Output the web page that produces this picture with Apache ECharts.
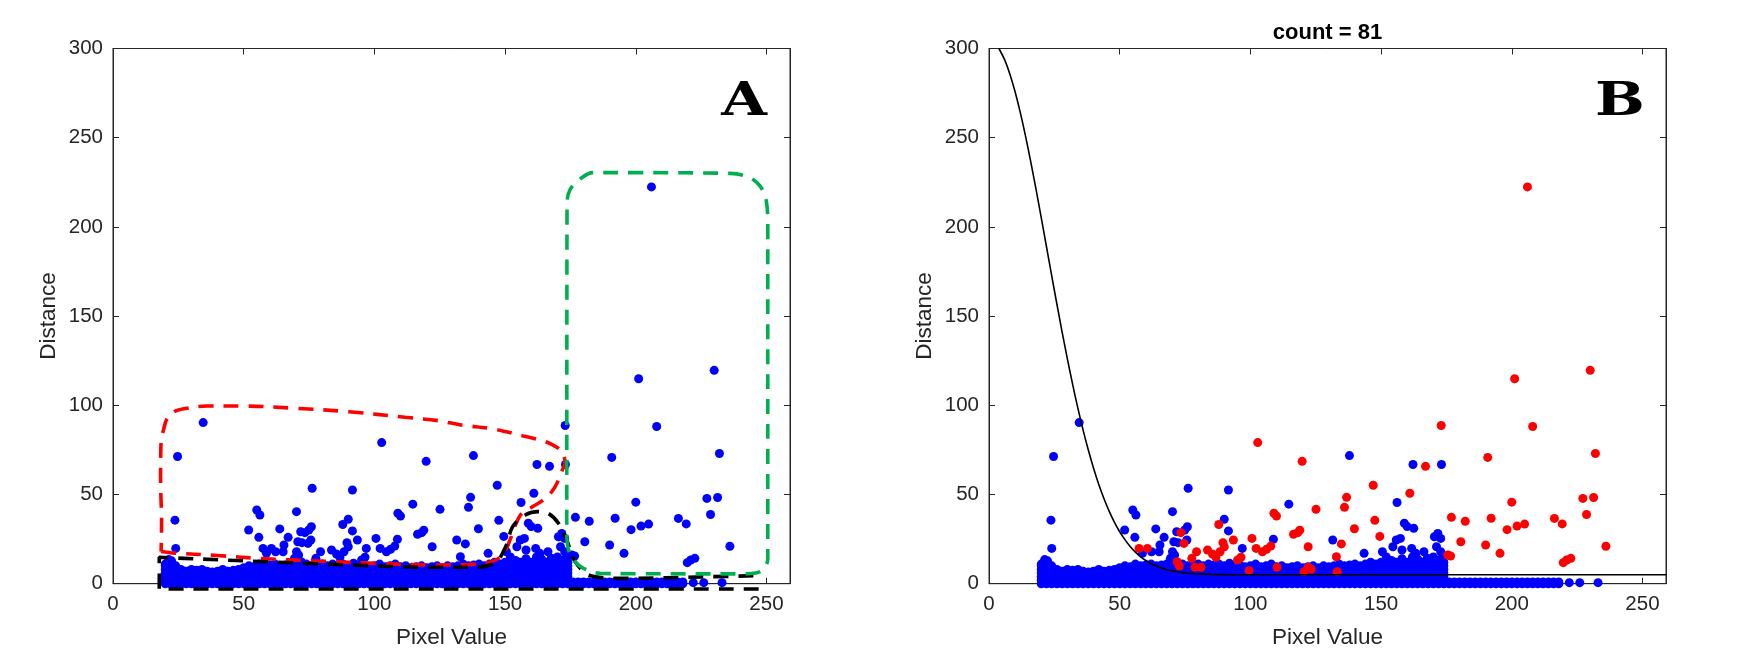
<!DOCTYPE html>
<html>
<head>
<meta charset="utf-8">
<script src="https://cdn.jsdelivr.net/npm/echarts@6/dist/echarts.min.js"></script>
<style>
html,body{margin:0;padding:0;background:#fff;}
#c{width:1750px;height:656px;}
</style>
</head>
<body>
<div id="c"></div>
<script>
// ---------------- data ----------------
const xTicks = [0, 50, 100, 150, 200, 250];
const yTicks = [0, 50, 100, 150, 200, 250, 300];
const xMax = 259;
const titleText = 'count = 81';
const panelLabels = ['A', 'B'];

// dense band of points near zero: column position and top of the band
const bandX = [20,22,24,26,28,30,32,34,36,38,40,42,44,46,48,50,52,54,56,58,60,62,64,66,68,70,72,74,76,78,80,82,84,86,88,90,92,94,96,98,100,102,104,106,108,110,112,114,116,118,120,122,124,126,128,130,132,134,136,138,140,142,144,146,148,150,152,154,156,158,160,162,164,166,168,170,172,174,176,178,180,182,184,186,188,190,192,194,196,198,200,202,204,206,208,210,212,214,216,218];
const bandTop = [11,12,10,8,7,8,7.5,8,7,6.5,7,8,7,7.5,8,9,10,9.5,11,10,10.5,11,10,10.5,11,12,10.5,11,10,10.5,11,10,11,10.5,11,10,11.5,10,10.5,9.5,10,11,9.5,10,11,9.5,10,9,9.5,10,9,9.5,10,9,10,9.5,10,11,10,10.5,11,10,11,12,11,12,11.5,13,12,14,12,15,13,12,14,15,13,12,1,1,1,1,1,1,1,1,1,1,1,1,1,1,1,1,1,1,1,1,1,1];

// scattered points shown blue in both panels
const blueX = [23.7,24,24.7,34.5,22.4,21.3,51.9,55,56.2,55.8,58.7,62.2,63.8,65.4,65.1,67,70.2,70.7,72.3,75.7,71.8,74.9,75.9,70.2,71,69.4,76.2,90,91.6,91.6,96.9,108.8,114.7,131.5,137.9,156.1,143.5,150.5,152,154.5,155.8,157.4,158,158.9,160,162.5,161.7,163.3,164,166.4,167.6,168.8,170.4,171.7,172.8,171.2,172.8,173.6,162.2,173.1,222,226,233];
const blueY = [35.6,19.8,71.3,90.3,12.8,13.5,30.1,41.3,38.5,26,17,17.9,30.7,21.7,17.9,26,40.4,23.5,23,24.5,29.1,30.1,31.9,17.9,16.1,14.2,53.5,36.1,29.6,52.5,19.8,24.9,44.6,24.5,71.8,45.5,17,17.9,15,20.7,24.5,25.4,18.9,33.9,32,31.1,19.8,17,13.7,17.9,14.2,13.3,26.3,28.2,25.4,20.7,17.9,15.1,66.8,66.8,0.6,0.6,0.6];

// points shown red in panel B (blue in panel A)
const redX = [57.4,60.6,72,72.8,73.4,74.6,77.6,78.8,81.1,79.4,83.6,85.5,86.8,88.4,89.5,90,87.9,93.5,95.1,96.4,99.5,100.6,102.2,104.6,106.2,107.8,109,110,110.2,116.5,118.1,118.9,120.5,122.1,123.3,122.1,125.1,132.9,133.2,134.8,136,136.8,139.8,147,147.6,149.5,161,102.8,119.8,173,167,190.8,176.9,182.2,192.1,175.5,176.6,180.5,190,195.5,198.2,200,201.1,202,204.9,206,208,216.3,219.3,219.7,221,222.6,227.2,228.6,230,231.3,232,236];
const redY = [19.8,19.8,12.3,9.9,28.6,22.6,14.2,9.2,9.2,17.9,18.9,16.6,14.8,17.9,23,20.7,33.2,24.5,13.3,14.8,7.3,25.4,19.8,17.9,19.3,21.1,39.5,37.9,9.2,27.7,28.6,30,6.7,9.2,8.1,20.7,41.7,15.1,6.7,22.3,42.8,48.4,30.8,55.2,35.5,26.5,50.7,79.1,68.6,88.7,65.8,70.8,37.2,35,36.7,16.1,15.5,23.5,21.7,17,30.3,45.7,114.9,32.3,33.4,222.4,88.1,36.6,33.5,11.8,13.3,14.2,47.8,38.8,119.6,48.3,73,21];

// threshold curve in panel B
const curveX = [3.8,6,8,10,12,14,16,18,20,22,24,26,28,30,32,34,36,38,40,42,44,46,48,50,52,54,56,58,60,62,65,68,70,75,80,85,90,100,150,200,259];
const curveY = [300,293.6,285.6,275.6,263.9,250.7,236.3,221,205,188.8,172.5,156.5,140.9,125.9,111.7,98.4,86.1,74.9,64.7,55.6,47.6,40.5,34.4,29.1,24.7,20.9,17.7,15.1,13,11.2,9.3,7.8,7.2,6,5.5,5.2,5.1,5,5,5,5];

// hand-drawn outlines in panel A
const redPathX = [18.4,22.3,40,55.8,80,100.4,122.7,136,142,146,149.5,152,154,156.3,160.9,165.4,169,171.9,172.9,172.3,170.7,168,164,157,145.7,133.1,124.3,111.7,90.3,70.1,48.6,36,27.2,23.4,20.5,19.3,18.4,18.2,18.6,18.4];
const redPathY = [18,17.3,15.8,14.2,12.6,11.4,10.5,10.8,11.5,13,17,25,33,39.2,43.5,47.8,54,63.7,68,72.5,75.5,78,80.3,82.8,86.7,89,91.4,93.3,96.4,98.3,99.6,99.6,98.1,96.4,92,86,80.5,58,34,18];
const blackPathX = [247,130,17.7,17.7,27.2,59,90.9,122.7,138.6,146.5,150.5,152.9,157.7,162.5,166.4,170.4,173.6,176.8,183.1,194.3,227.7,247];
const blackPathY = [-3,-3,-3,14.8,14.2,12.3,10.5,9.2,9.2,12.3,21.7,32,38.5,40.4,39.5,33.9,24.5,12.3,4.3,3,3.9,4.5];
const greenPathX = [173.6,174.5,177,180,186.3,200,240,246,249,250.5,250.5,250,247.5,243,236,200,183.6,178.6,174.8,173.7,173.6];
const greenPathY = [26,18,12,8.6,5.8,5.6,5.5,6,8.5,14,200,214,223,228,230,230.4,230.4,226.7,220.7,213,26];

// ---------------- build ----------------
function pairs(xs, ys) { return xs.map((x, i) => [x, ys[i]]); }
const bandPts = [];
bandX.forEach((x, i) => {
  const top = bandTop[i];
  for (let y = 0; y < top; y += 2) bandPts.push([x, y]);
  bandPts.push([x, top]);
});
const bluePts = pairs(blueX, blueY);
const redPts = pairs(redX, redY);

const AXIS = '#262626';
const FONT = '"Liberation Sans", Arial, sans-serif';
const G = [
  {left: 113, top: 48.5, width: 677, height: 535.2},
  {left: 989, top: 48.5, width: 677, height: 535.2}
];

function xAx(gi, pos) {
  const main = pos === 'bottom';
  return {
    type: 'value', gridIndex: gi, position: pos, min: 0, max: xMax,
    axisLine: {show: true, onZero: false, lineStyle: {color: AXIS, width: 1}},
    axisTick: {show: true, inside: true, length: 6, customValues: xTicks, lineStyle: {color: AXIS}},
    axisLabel: {show: main, customValues: xTicks, color: AXIS, fontSize: 20.5, fontFamily: FONT, margin: 10},
    splitLine: {show: false},
    name: main ? 'Pixel Value' : '', nameLocation: 'middle', nameGap: 43,
    nameTextStyle: {color: AXIS, fontSize: 22.5, fontFamily: FONT}
  };
}
function yAx(gi, pos) {
  const main = pos === 'left';
  return {
    type: 'value', gridIndex: gi, position: pos, min: 0, max: 300, interval: 50,
    axisLine: {show: true, onZero: false, lineStyle: {color: AXIS, width: 1}},
    axisTick: {show: true, inside: true, length: 6, customValues: yTicks, lineStyle: {color: AXIS}},
    axisLabel: {show: main, customValues: yTicks, color: AXIS, fontSize: 20.5, fontFamily: FONT, margin: 10},
    splitLine: {show: false},
    name: main ? 'Distance' : '', nameLocation: 'middle', nameGap: 53, nameRotate: 90,
    nameTextStyle: {color: AXIS, fontSize: 22.5, fontFamily: FONT}
  };
}

function scatter(gi, data, color, z) {
  return {
    type: 'scatter', xAxisIndex: gi, yAxisIndex: gi, data: data,
    symbol: 'circle', symbolSize: 9, itemStyle: {color: color, opacity: 1},
    z: z, silent: true, large: false
  };
}
function outline(xs, ys, color, z) {
  return {
    type: 'line', xAxisIndex: 0, yAxisIndex: 0, data: pairs(xs, ys),
    showSymbol: false, symbol: 'none', smooth: 0.35, clip: false,
    lineStyle: {color: color, width: 3.6, type: [15, 10], cap: 'butt'},
    z: z, silent: true
  };
}
const labelFont = 'bold 46px "DejaVu Serif", "Liberation Serif", serif';

const option = {
  animation: false,
  backgroundColor: '#ffffff',
  grid: G.map(g => Object.assign({show: true, borderColor: AXIS, borderWidth: 1, backgroundColor: 'transparent'}, g)),
  xAxis: [xAx(0, 'bottom'), xAx(1, 'bottom'), xAx(0, 'top'), xAx(1, 'top')],
  yAxis: [yAx(0, 'left'), yAx(1, 'left'), yAx(0, 'right'), yAx(1, 'right')],
  series: [
    scatter(0, bandPts.concat(bluePts, redPts), '#0000ff', 2),
    outline(redPathX, redPathY, '#ff0000', 5),
    outline(blackPathX, blackPathY, '#000000', 6),
    outline(greenPathX, greenPathY, '#00b050', 7),
    scatter(1, bandPts.concat(bluePts), '#0000ff', 2),
    scatter(1, redPts, '#ff0000', 3),
    {
      type: 'line', xAxisIndex: 1, yAxisIndex: 1, data: pairs(curveX, curveY),
      showSymbol: false, symbol: 'none', smooth: 0.3,
      lineStyle: {color: '#000000', width: 1.6}, z: 6, silent: true
    }
  ],
  graphic: [
    {type: 'text', x: G[1].left + G[1].width / 2, y: 33, silent: true,
     style: {text: titleText, fill: '#000', font: 'bold 22px ' + FONT, textAlign: 'center', textVerticalAlign: 'middle'}},
    {type: 'text', x: G[0].left + G[0].width - 46, y: 103, scaleX: 1.28, silent: true,
     style: {text: panelLabels[0], fill: '#000', font: labelFont, textAlign: 'center', textVerticalAlign: 'middle'}},
    {type: 'text', x: G[1].left + G[1].width - 46, y: 103, scaleX: 1.28, silent: true,
     style: {text: panelLabels[1], fill: '#000', font: labelFont, textAlign: 'center', textVerticalAlign: 'middle'}}
  ]
};

const chart = echarts.init(document.getElementById('c'), null, {renderer: 'canvas'});
chart.setOption(option);
</script>
</body>
</html>
